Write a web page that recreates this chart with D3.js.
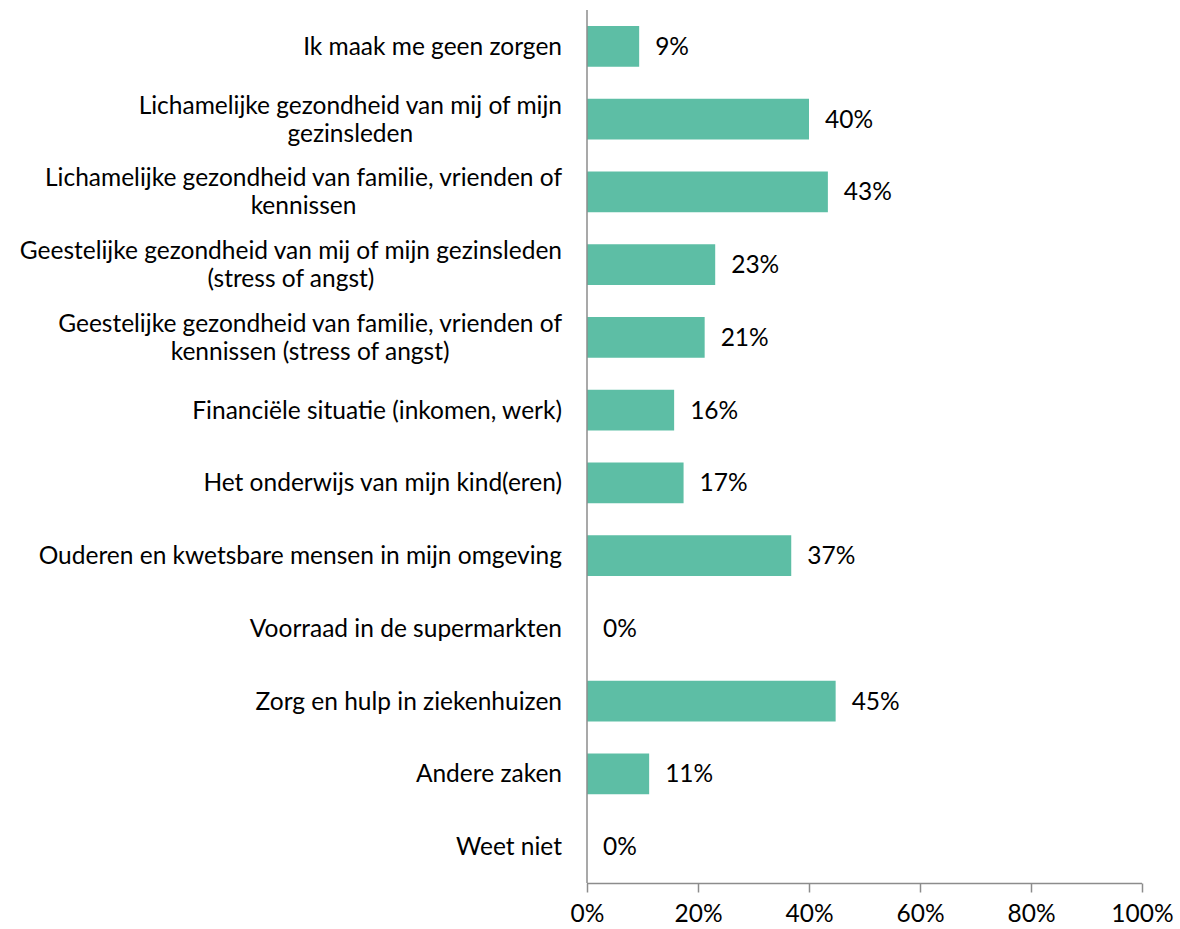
<!DOCTYPE html>
<html>
<head>
<meta charset="utf-8">
<script src="https://cdn.jsdelivr.net/npm/d3@7"></script>
<style>
  body { margin: 0; background: #fff; }
  text { font-family: Lato, "Open Sans", sans-serif; fill: #000; }
</style>
</head>
<body>
<div id="chart"></div>
<script>
// categories (each entry = lines of the label) and their percentages
var categories = [
  ["Ik maak me geen zorgen"],
  ["Lichamelijke gezondheid van mij of mijn", "gezinsleden"],
  ["Lichamelijke gezondheid van familie, vrienden of", "kennissen"],
  ["Geestelijke gezondheid van mij of mijn gezinsleden", "(stress of angst)"],
  ["Geestelijke gezondheid van familie, vrienden of", "kennissen (stress of angst)"],
  ["Financiële situatie (inkomen, werk)"],
  ["Het onderwijs van mijn kind(eren)"],
  ["Ouderen en kwetsbare mensen in mijn omgeving"],
  ["Voorraad in de supermarkten"],
  ["Zorg en hulp in ziekenhuizen"],
  ["Andere zaken"],
  ["Weet niet"]
];
var values = [9.4, 40.0, 43.4, 23.1, 21.2, 15.7, 17.4, 36.8, 0, 44.8, 11.2, 0];
var ticks = [0, 20, 40, 60, 80, 100];

var w = 1180, h = 929;
var margin = {left: 587, right: 38, top: 10, bottom: 46};
var fontSize = 24.5;

var svg = d3.select("#chart").append("svg")
    .attr("width", w)
    .attr("height", h);

var x = d3.scaleLinear()
    .domain([0, 100])
    .range([margin.left, w - margin.right]);

var y = d3.scaleBand()
    .domain(d3.range(categories.length))
    .range([margin.top, h - margin.bottom])
    .paddingInner(0.44)
    .paddingOuter(0.22);

// bars
svg.selectAll("rect.bar")
    .data(values)
    .enter()
    .append("rect")
    .attr("class", "bar")
    .attr("x", x(0))
    .attr("y", function(d, i) { return y(i); })
    .attr("width", function(d) { return x(d) - x(0); })
    .attr("height", y.bandwidth())
    .attr("fill", "#5dbea5");

// value labels
svg.selectAll("text.val")
    .data(values)
    .enter()
    .append("text")
    .attr("class", "val")
    .attr("x", function(d) { return x(d) + 16; })
    .attr("y", function(d, i) { return y(i) + y.bandwidth() / 2; })
    .attr("dy", "0.35em")
    .style("font-size", fontSize + "px")
    .text(function(d) { return Math.round(d) + "%"; });

// x axis
var xAxis = d3.axisBottom(x)
    .tickValues(ticks)
    .tickSize(9)
    .tickFormat(function(d) { return d + "%"; });

var gx = svg.append("g")
    .attr("transform", "translate(0," + (h - margin.bottom + 0.5) + ")")
    .call(xAxis);
gx.select(".domain").attr("stroke", "#8c8c8c").attr("stroke-width", 1.5)
  .attr("d", "M" + x(0) + ",0H" + x(100));
gx.selectAll(".tick line").attr("stroke", "#8c8c8c").attr("stroke-width", 1.5);
gx.selectAll(".tick text")
    .attr("y", 21)
    .style("font-size", "24.5px")
    .style("font-family", "Lato, 'Open Sans', sans-serif")
    .attr("fill", "#000");

// y axis line
svg.append("line")
    .attr("x1", x(0)).attr("x2", x(0))
    .attr("y1", margin.top).attr("y2", h - margin.bottom)
    .attr("stroke", "#8c8c8c")
    .attr("stroke-width", 1.5);

// category labels: block right aligned, lines centred to each other
var lineH = 28;
var labelRight = x(0) - 25;
categories.forEach(function(lines, i) {
  var g = svg.append("g");
  var cy = y(i) + y.bandwidth() / 2;
  var texts = lines.map(function(s, j) {
    return g.append("text")
      .attr("y", cy + (j - (lines.length - 1) / 2) * lineH)
      .attr("dy", "0.35em")
      .attr("text-anchor", "middle")
      .style("font-size", fontSize + "px")
      .text(s);
  });
  var maxW = d3.max(texts, function(t) { return t.node().getComputedTextLength(); });
  texts.forEach(function(t) { t.attr("x", labelRight - maxW / 2); });
});
</script>
</body>
</html>
